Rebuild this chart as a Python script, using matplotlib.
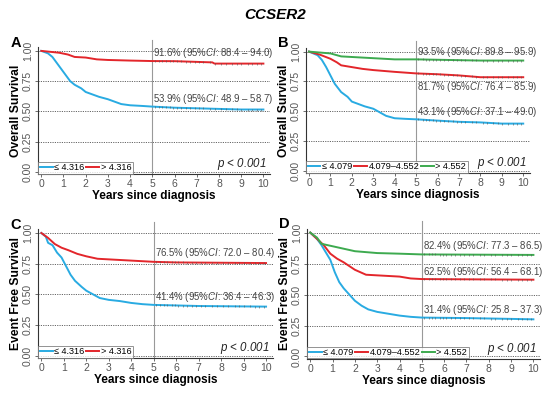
import numpy as np
import matplotlib.pyplot as plt

plt.rcParams['font.family'] = ['Liberation Sans', 'DejaVu Sans']
plt.rcParams['mathtext.fontset'] = 'custom'
plt.rcParams['mathtext.rm'] = 'Liberation Sans'
plt.rcParams['mathtext.it'] = 'Liberation Sans:italic'

BLUE = '#29ABE2'
RED = '#E3262B'
GREEN = '#3DAA4F'

# ---- data (time in years, survival) ----
# panel A - overall survival, 2 groups
a_low_t = [0, 0.3, 0.5, 0.7, 0.9, 1.1, 1.3, 1.5, 1.8, 2.0, 2.3, 2.6, 3.0, 3.3, 3.6, 4.0, 4.5, 5.0, 6.0, 7.0, 8.0, 9.0, 10.0]
a_low_s = [1.0, 0.98, 0.95, 0.90, 0.85, 0.80, 0.75, 0.72, 0.69, 0.66, 0.64, 0.62, 0.60, 0.58, 0.56, 0.55, 0.545, 0.539, 0.53, 0.525, 0.52, 0.515, 0.515]
a_high_t = [0, 0.8, 1.2, 1.5, 2.0, 2.5, 3.0, 4.0, 5.0, 6.0, 7.7, 7.8, 10.0]
a_high_s = [1.0, 0.985, 0.97, 0.95, 0.945, 0.93, 0.925, 0.92, 0.916, 0.915, 0.905, 0.895, 0.895]

# panel B - overall survival, 3 groups
b_low_t = [0, 0.4, 0.6, 0.8, 1.0, 1.2, 1.5, 1.8, 2.0, 2.3, 2.6, 3.0, 3.3, 3.6, 4.0, 4.5, 5.0, 6.0, 7.0, 8.0, 9.0, 10.0]
b_low_s = [1.0, 0.97, 0.93, 0.87, 0.80, 0.73, 0.66, 0.62, 0.58, 0.56, 0.54, 0.52, 0.49, 0.46, 0.44, 0.435, 0.431, 0.42, 0.41, 0.405, 0.395, 0.395]
b_mid_t = [0, 0.5, 1.0, 1.3, 1.5, 2.0, 2.5, 3.0, 4.0, 5.0, 6.0, 7.0, 8.0, 10.0]
b_mid_s = [1.0, 0.975, 0.94, 0.91, 0.885, 0.87, 0.855, 0.845, 0.83, 0.817, 0.81, 0.80, 0.785, 0.785]
b_high_t = [0, 1.0, 1.5, 2.0, 3.0, 4.0, 5.0, 8.0, 10.0]
b_high_s = [1.0, 0.985, 0.96, 0.955, 0.945, 0.935, 0.935, 0.925, 0.925]

# panel C - event free survival, 2 groups
c_low_t = [0, 0.2, 0.3, 0.5, 0.7, 0.9, 1.1, 1.3, 1.5, 1.8, 2.0, 2.3, 2.6, 3.0, 3.5, 4.0, 4.5, 5.0, 7.0, 10.0]
c_low_s = [1.0, 0.97, 0.92, 0.90, 0.84, 0.80, 0.73, 0.66, 0.61, 0.56, 0.53, 0.50, 0.47, 0.455, 0.445, 0.43, 0.42, 0.414, 0.405, 0.40]
c_high_t = [0, 0.3, 0.6, 0.9, 1.2, 1.6, 2.0, 2.5, 3.0, 4.0, 5.0, 6.0, 10.0]
c_high_s = [1.0, 0.96, 0.91, 0.88, 0.86, 0.83, 0.81, 0.79, 0.785, 0.775, 0.765, 0.76, 0.755]

# panel D - event free survival, 3 groups
d_low_t = [0, 0.3, 0.5, 0.7, 0.9, 1.1, 1.3, 1.5, 1.8, 2.0, 2.3, 2.6, 3.0, 3.5, 4.0, 4.5, 5.0, 7.0, 10.0]
d_low_s = [1.0, 0.95, 0.90, 0.84, 0.78, 0.68, 0.60, 0.55, 0.49, 0.45, 0.41, 0.38, 0.36, 0.345, 0.33, 0.32, 0.314, 0.31, 0.30]
d_mid_t = [0, 0.3, 0.6, 0.9, 1.2, 1.5, 2.0, 2.5, 3.0, 4.0, 4.5, 5.0, 10.0]
d_mid_s = [1.0, 0.95, 0.90, 0.83, 0.79, 0.76, 0.70, 0.66, 0.655, 0.645, 0.63, 0.625, 0.62]
d_high_t = [0, 0.3, 0.5, 1.0, 1.5, 2.0, 3.0, 4.0, 5.0, 10.0]
d_high_s = [1.0, 0.96, 0.91, 0.89, 0.87, 0.85, 0.835, 0.83, 0.824, 0.82]

# censor marks (years)
censor_times = [5.1, 5.3, 5.45, 5.6, 5.8, 5.95, 6.1, 6.3, 6.5, 6.7, 6.9, 7.1, 7.3, 7.6, 7.8,
                8.1, 8.3, 8.6, 8.8, 9.0, 9.3, 9.5, 9.7, 9.9]

labels2 = ['\u2264 4.316', '> 4.316']
labels3 = ['\u2264 4.079', '4.079\u20134.552', '> 4.552']

panels = [
    ('A', 'Overall Survival', [(a_low_t, a_low_s, BLUE), (a_high_t, a_high_s, RED)], labels2,
     [(0.985, '91.6%', '88.4 \u2013 94.0'), (0.60, '53.9%', '48.9 \u2013 58.7')],
     [0.069, 0.558, 0.422, 0.322]),
    ('B', 'Overall Survival', [(b_low_t, b_low_s, BLUE), (b_mid_t, b_mid_s, RED), (b_high_t, b_high_s, GREEN)], labels3,
     [(0.995, '93.5%', '89.8 \u2013 95.9'), (0.70, '81.7%', '76.4 \u2013 85.9'), (0.49, '43.1%', '37.1 \u2013 49.0')],
     [0.556, 0.561, 0.407, 0.317]),
    ('C', 'Event Free Survival', [(c_low_t, c_low_s, BLUE), (c_high_t, c_high_s, RED)], labels2,
     [(0.835, '76.5%', '72.0 \u2013 80.4'), (0.482, '41.4%', '36.4 \u2013 46.3')],
     [0.069, 0.091, 0.427, 0.327]),
    ('D', 'Event Free Survival', [(d_low_t, d_low_s, BLUE), (d_mid_t, d_mid_s, RED), (d_high_t, d_high_s, GREEN)], labels3,
     [(0.89, '82.4%', '77.3 \u2013 86.5'), (0.68, '62.5%', '56.4 \u2013 68.1'), (0.373, '31.4%', '25.8 \u2013 37.3')],
     [0.558, 0.089, 0.424, 0.33]),
]

fig = plt.figure(figsize=(5.5, 3.94), dpi=100)
fig.text(0.5, 0.962, 'CCSER2', ha='center', va='center', fontsize=11, fontweight='bold', fontstyle='italic')

for letter, ylab, curves, labels, notes, pos in panels:
    ax = fig.add_axes(pos)
    for yv in [0, 0.25, 0.5, 0.75, 1.0]:
        ax.axhline(yv, color='#666666', linestyle=(0, (1.2, 1.2)), linewidth=0.7, zorder=1)
    ax.axvline(5, color='#999999', linewidth=0.8, zorder=1, clip_on=False, ymax=1.06)
    for (t, s, col), lab in zip(curves, labels):
        ax.plot(t, s, color=col, linewidth=1.4, label=lab, zorder=3)
        cs = np.interp(censor_times, t, s)
        ax.plot(censor_times, cs, linestyle='none', marker='|', markersize=2,
                markeredgewidth=0.5, color='#555555', alpha=0.8, zorder=4)
    for yv, pct, ci in notes:
        ax.text(5.05, yv, pct + r' ($\mathit{95\%CI}$: ' + ci + ')', fontsize=6.9,
                color='#444444', ha='left', va='center', zorder=5)
    ax.text(0.985, 0.08, r'$\mathit{p}$ < 0.001', transform=ax.transAxes, ha='right', va='center',
            fontsize=8.3, color='#222222', fontstyle='italic')
    ax.set_xlim(-0.15, 10.3)
    ax.set_ylim(-0.02, 1.03)
    ax.set_xticks(range(0, 11))
    ax.set_yticks([0, 0.25, 0.5, 0.75, 1.0])
    ax.set_yticklabels(['0.00', '0.25', '0.50', '0.75', '1.00'], rotation=90, va='center')
    ax.tick_params(labelsize=7.5, colors='#555555', length=2, width=0.6, pad=1.5)
    for sp in ['top', 'right']:
        ax.spines[sp].set_visible(False)
    for sp in ['left', 'bottom']:
        ax.spines[sp].set_color('#333333')
        ax.spines[sp].set_linewidth(0.8)
    ax.set_xlabel('Years since diagnosis', fontsize=8.5, fontweight='bold', labelpad=1)
    ax.set_ylabel(ylab, fontsize=8.7, fontweight='bold', labelpad=1)
    leg = ax.legend(loc='lower left', ncol=len(labels), fontsize=6.6, handlelength=1.4,
                    handletextpad=0.2, columnspacing=0.15, borderpad=0.15, borderaxespad=0.05,
                    frameon=True, fancybox=False, edgecolor='#777777')
    leg.get_frame().set_linewidth(0.7)
    fig.text(pos[0] - 0.05, pos[1] + pos[3] + 0.012, letter, fontsize=10.5, fontweight='bold',
             ha='left', va='center')

plt.savefig('out.png', dpi=100)
